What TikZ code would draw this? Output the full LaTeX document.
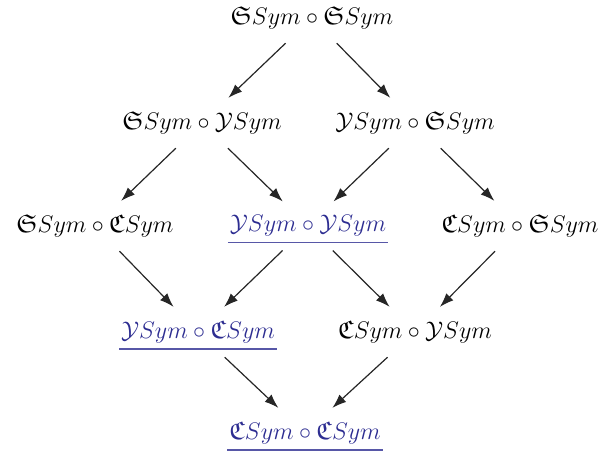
\documentclass[tikz,border=0pt]{standalone}
\usepackage{amsmath,amssymb}
\usetikzlibrary{arrows.meta}
\definecolor{hlblue}{RGB}{45,45,145}
\tikzset{
  sym/.style={font=\fontsize{12.8}{15}\selectfont, inner sep=2pt, outer sep=5pt},
  hl/.style={sym, text=hlblue},
  arr/.style={-{Latex[length=7pt,width=5pt]}, semithick, black!85},
  uline/.style={hlblue!80, thick}
}

\begin{document}
\begin{tikzpicture}[x=0.5pt,y=-0.5pt]
    \useasboundingbox (0,0) rectangle (604,456);

    % Top row
    \node[sym] (ss) at (312,18) {$\mathfrak{S}Sym\circ\mathfrak{S}Sym$};

    % Second row
    \node[sym] (sy) at (202,123) {$\mathfrak{S}Sym\circ\mathcal{Y}Sym$};
    \node[sym] (ys) at (415,123) {$\mathcal{Y}Sym\circ\mathfrak{S}Sym$};

    % Third row
    \node[sym] (sc) at (95,226) {$\mathfrak{S}Sym\circ\mathfrak{C}Sym$};
    \node[hl] (yy) at (308,226) {$\mathcal{Y}Sym\circ\mathcal{Y}Sym$};
    \node[sym] (cs) at (520,226) {$\mathfrak{C}Sym\circ\mathfrak{S}Sym$};

    % Fourth row
    \node[hl] (yc) at (198,332) {$\mathcal{Y}Sym\circ\mathfrak{C}Sym$};
    \node[sym] (cy) at (415,332) {$\mathfrak{C}Sym\circ\mathcal{Y}Sym$};

    % Bottom
    \node[hl] (cc) at (305,433) {$\mathfrak{C}Sym\circ\mathfrak{C}Sym$};

    % Underlines
    \foreach \n in {yy,yc,cc}
    {
        \draw[uline] ([xshift=6pt,yshift=4pt]\n.south west) -- ([xshift=-6pt,yshift=4pt]\n.south east);
    }

    % Arrows
    \draw[arr] (ss) -- (sy);
    \draw[arr] (ss) -- (ys);
    \draw[arr] (sy) -- (sc);
    \draw[arr] (sy) -- (yy);
    \draw[arr] (ys) -- (yy);
    \draw[arr] (ys) -- (cs);
    \draw[arr] (sc) -- (yc);
    \draw[arr] (yy) -- (yc);
    \draw[arr] (yy) -- (cy);
    \draw[arr] (cs) -- (cy);
    \draw[arr] (yc) -- (cc);
    \draw[arr] (cy) -- (cc);
\end{tikzpicture}
\end{document}
